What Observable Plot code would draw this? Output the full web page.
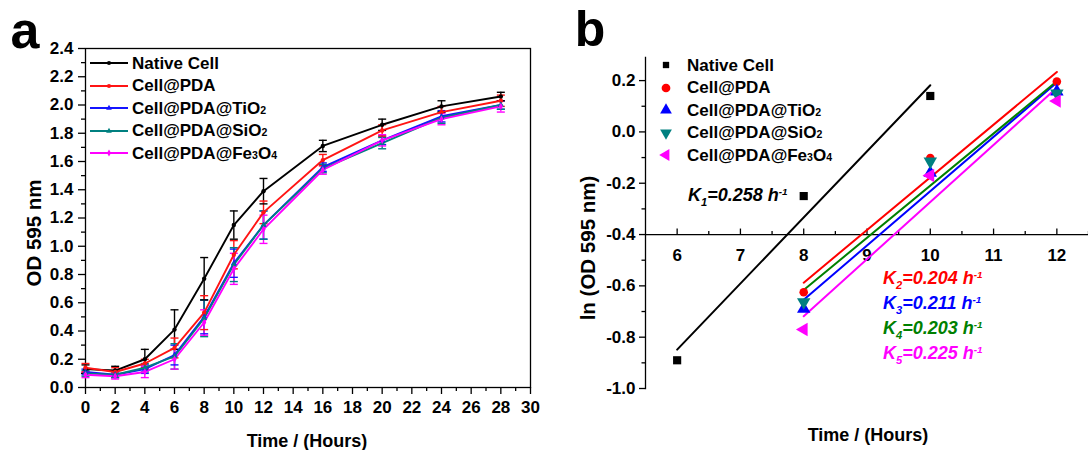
<!DOCTYPE html>
<html><head><meta charset="utf-8">
<script src="https://cdn.jsdelivr.net/npm/d3@7"></script>
<script src="https://cdn.jsdelivr.net/npm/@observablehq/plot@0.6"></script>
<style>
body{margin:0;background:#fff;}
#root{position:relative;width:1088px;height:450px;overflow:hidden;font-family:"Liberation Sans",Arial,sans-serif;font-weight:bold;color:#000;}
.abs{position:absolute;white-space:nowrap;line-height:1;}
.sm{font-size:0.62em;}
.row{display:flex;align-items:center;height:22.5px;font-size:17px;}
.k{font-style:italic;font-size:18px;}
.k sub{font-size:0.62em;vertical-align:-0.45em;}
.k sup{font-size:0.55em;vertical-align:0.55em;}
</style></head><body><div id="root"></div>
<script>
// ---------- data: panel a (growth curves) ----------
const times = [0, 2, 4, 6, 8, 10, 12, 16, 20, 24, 28];
const seriesNames = ["Native Cell", "Cell@PDA", "Cell@PDA@TiO2", "Cell@PDA@SiO2", "Cell@PDA@Fe3O4"];
const seriesHtml = ["Native Cell", "Cell@PDA", "Cell@PDA@TiO<span class='sm'>2</span>", "Cell@PDA@SiO<span class='sm'>2</span>", "Cell@PDA@Fe<span class='sm'>3</span>O<span class='sm'>4</span>"];
const lineColors = ["#000000", "#ff1414", "#1414ff", "#008080", "#ff00ff"];
const odNative = [0.13, 0.12, 0.20, 0.41, 0.77, 1.15, 1.39, 1.71, 1.86, 1.99, 2.06];
const errNative = [0.03, 0.03, 0.07, 0.14, 0.15, 0.10, 0.09, 0.04, 0.04, 0.04, 0.03];
const odPDA = [0.14, 0.11, 0.17, 0.28, 0.53, 0.94, 1.24, 1.61, 1.82, 1.95, 2.03];
const errPDA = [0.03, 0.03, 0.03, 0.07, 0.12, 0.10, 0.08, 0.04, 0.04, 0.04, 0.04];
const odTiO2 = [0.11, 0.09, 0.13, 0.23, 0.50, 0.88, 1.15, 1.56, 1.75, 1.92, 2.00];
const errTiO2 = [0.02, 0.02, 0.03, 0.07, 0.12, 0.10, 0.10, 0.03, 0.03, 0.04, 0.03];
const odSiO2 = [0.10, 0.09, 0.14, 0.22, 0.49, 0.87, 1.15, 1.55, 1.73, 1.91, 2.00];
const errSiO2 = [0.02, 0.02, 0.03, 0.09, 0.13, 0.12, 0.10, 0.03, 0.04, 0.04, 0.03];
const odFe3O4 = [0.09, 0.08, 0.11, 0.20, 0.46, 0.84, 1.12, 1.54, 1.75, 1.90, 1.99];
const errFe3O4 = [0.02, 0.02, 0.04, 0.07, 0.09, 0.11, 0.10, 0.03, 0.04, 0.04, 0.04];
const xTicksA = [0, 2, 4, 6, 8, 10, 12, 14, 16, 18, 20, 22, 24, 26, 28, 30];
const yTicksA = [0, 0.2, 0.4, 0.6, 0.8, 1.0, 1.2, 1.4, 1.6, 1.8, 2.0, 2.2, 2.4];

// ---------- data: panel b (ln OD, linear fits) ----------
const lnTimesNative = [6, 8, 10];
const lnTimes = [8, 10, 12];
const lnNative = [-0.89, -0.25, 0.14];
const lnPDA = [-0.625, -0.102, 0.196];
const lnTiO2 = [-0.69, -0.16, 0.157];
const lnSiO2 = [-0.663, -0.115, 0.15];
const lnFe3O4 = [-0.77, -0.17, 0.12];
const markerColors = ["#000000", "#ff0000", "#0000ff", "#008080", "#ff00ff"];
const fitColors = ["#000000", "#ff0000", "#0000ff", "#008000", "#ff00ff"];
const kValues = ["0.258", "0.204", "0.211", "0.203", "0.225"];
const kColors = ["#000000", "#ff0000", "#0000ff", "#008000", "#ff00ff"];
const xTicksB = [6, 7, 8, 9, 10, 11, 12];
const yTicksB = [-1.0, -0.8, -0.6, -0.4, -0.2, 0.0, 0.2];

// ---------- build tables ----------
const odValues = [odNative, odPDA, odTiO2, odSiO2, odFe3O4];
const odErrors = [errNative, errPDA, errTiO2, errSiO2, errFe3O4];
const growth = seriesNames.flatMap((s, i) => times.map((t, j) => ({series: s, t, v: odValues[i][j], e: odErrors[i][j]})));
const lnValues = [lnNative, lnPDA, lnTiO2, lnSiO2, lnFe3O4];
const lnTable = seriesNames.map((s, i) => (i === 0 ? lnTimesNative : lnTimes).map((t, j) => ({series: s, idx: i, t, v: lnValues[i][j]})));

const root = document.getElementById("root");
const capSym = {draw(ctx, size) { const r = Math.sqrt(size / Math.PI); ctx.moveTo(-r, 0); ctx.lineTo(r, 0); }};
const upTick = {draw(ctx, size) { const r = Math.sqrt(size / Math.PI); ctx.moveTo(0, 0); ctx.lineTo(0, -r); }};
const fmt1 = d => d.toFixed(1);
const minorA_x = d3.range(1, 30, 2);
const minorA_y = d3.range(0.1, 2.4, 0.2);
const font = {fontFamily: '"Liberation Sans", Arial, sans-serif', fontWeight: "bold", fontSize: "17px", background: "transparent", overflow: "visible", position: "absolute", top: "0px"};

// ---------- panel a ----------
const markSym = ["circle", "circle", "triangle", "triangle", "diamond"];
const plotA = Plot.plot({
  width: 545, height: 450,
  marginLeft: 85, marginRight: 15, marginTop: 48, marginBottom: 63,
  style: {...font, left: "0px"},
  x: {domain: [0, 30], label: null},
  y: {domain: [0, 2.4], label: null},
  color: {domain: seriesNames, range: lineColors},
  symbol: {domain: seriesNames, range: markSym},
  marks: [
    Plot.frame({stroke: "#000", strokeWidth: 1.3}),
    Plot.axisX({ticks: xTicksA, tickSize: 7, tickPadding: 6, tickFormat: d => String(d), label: null, strokeWidth: 1.3}),
    Plot.axisX({ticks: minorA_x, tickSize: 4, tickFormat: () => "", label: null, strokeWidth: 1.3}),
    Plot.axisY({ticks: yTicksA, tickSize: 7, tickPadding: 5, tickFormat: fmt1, label: null, strokeWidth: 1.3}),
    Plot.axisY({ticks: minorA_y, tickSize: 4, tickFormat: () => "", label: null, strokeWidth: 1.3}),
    Plot.ruleX(growth, {x: "t", y1: d => d.v - d.e, y2: d => d.v + d.e, stroke: "series", strokeWidth: 1.4}),
    Plot.dot(growth, {x: "t", y: d => d.v + d.e, symbol: capSym, r: 4, stroke: "series", fill: "none", strokeWidth: 1.4}),
    Plot.dot(growth, {x: "t", y: d => d.v - d.e, symbol: capSym, r: 4, stroke: "series", fill: "none", strokeWidth: 1.4}),
    Plot.line(growth, {x: "t", y: "v", z: "series", stroke: "series", strokeWidth: 1.9}),
    Plot.dot(growth, {x: "t", y: "v", fill: "series", symbol: "series", r: 2.2})
  ]
});
root.appendChild(plotA);

// ---------- panel b ----------
const rot = [0, 0, 0, 180, -90];
const symB = ["square", "circle", "triangle", "triangle", "triangle"];
const plotB = Plot.plot({
  width: 528, height: 450,
  marginLeft: 85, marginRight: 0, marginTop: 57, marginBottom: 62,
  style: {...font, left: "560px"},
  x: {domain: [5.5, 12.5], label: null, axis: null},
  y: {domain: [-1.0, 0.29], label: null},
  marks: [
    Plot.frame({anchor: "left", stroke: "#000", strokeWidth: 1.3}),
    Plot.ruleY([-0.4], {stroke: "#000", strokeWidth: 1.3}),
    Plot.axisY({ticks: yTicksB, tickSize: 6, tickPadding: 4, tickFormat: fmt1, label: null, strokeWidth: 1.3}),
    Plot.axisY({ticks: d3.range(-0.9, 0.29, 0.2), tickSize: 3.5, tickFormat: () => "", label: null, strokeWidth: 1.3}),
    Plot.dot(xTicksB, {x: d => d, y: () => -0.4, symbol: upTick, r: 6, stroke: "#000", fill: "none", strokeWidth: 1.3}),
    Plot.dot(d3.range(6.5, 12.6, 1), {x: d => d, y: () => -0.4, symbol: upTick, r: 3.5, stroke: "#000", fill: "none", strokeWidth: 1.3}),
    Plot.text(xTicksB, {x: d => d, y: () => -0.4, text: d => String(d), dy: 21, fill: "#000"}),
    ...lnTable.map((tbl, i) => Plot.linearRegressionY(tbl, {x: "t", y: "v", stroke: fitColors[i], strokeWidth: 2, ci: 0})),
    ...lnTable.map((tbl, i) => Plot.dot(tbl, {x: "t", y: "v", symbol: symB[i], rotate: rot[i], r: i === 0 ? 4.6 : (i === 1 ? 4.3 : 5), fill: markerColors[i], stroke: "none"}))
  ]
});
root.appendChild(plotB);

// ---------- HTML texts ----------
function put(html, x, y, css, transform) {
  const d = document.createElement("div");
  d.className = "abs";
  d.innerHTML = html;
  d.style.left = x + "px"; d.style.top = y + "px";
  d.style.transform = transform || "translate(-50%,-50%)";
  Object.assign(d.style, css || {});
  root.appendChild(d);
  return d;
}
put("a", 25, 30, {fontSize: "52px"});
put("b", 590, 29, {fontSize: "50px"});
put("Time / (Hours)", 307, 441, {fontSize: "18px"});
put("Time / (Hours)", 868, 435, {fontSize: "18px"});
put("OD 595 nm", 34, 233, {fontSize: "20.5px"}, "translate(-50%,-50%) rotate(-90deg)");
put("ln (OD 595 nm)", 588, 248, {fontSize: "20.5px"}, "translate(-50%,-50%) rotate(-90deg)");

// legend a
const legA = document.createElement("div");
legA.className = "abs"; legA.style.left = "89px"; legA.style.top = "52px";
seriesNames.forEach((s, i) => {
  const row = document.createElement("div"); row.className = "row";
  const sym = d3.symbol().type(i === 2 || i === 3 ? d3.symbolTriangle : i === 4 ? d3.symbolDiamond : d3.symbolCircle).size(14)();
  row.innerHTML = `<svg width="40" height="22" style="flex:none"><line x1="1" x2="39" y1="11" y2="11" stroke="${lineColors[i]}" stroke-width="2.2"/><path d="${sym}" transform="translate(20,11)" fill="${lineColors[i]}"/></svg><span style="margin-left:3px">${seriesHtml[i]}</span>`;
  legA.appendChild(row);
});
root.appendChild(legA);

// legend b
const legB = document.createElement("div");
legB.className = "abs"; legB.style.left = "657px"; legB.style.top = "54px";
const d3types = [d3.symbolSquare, d3.symbolCircle, d3.symbolTriangle, d3.symbolTriangle, d3.symbolTriangle];
seriesNames.forEach((s, i) => {
  const row = document.createElement("div"); row.className = "row";
  const sym = d3.symbol().type(d3types[i]).size(i === 0 ? 40 : 60)();
  row.innerHTML = `<svg width="22" height="22" style="flex:none"><path d="${sym}" transform="translate(9,11) rotate(${rot[i]})" fill="${markerColors[i]}"/></svg><span style="margin-left:8px">${seriesHtml[i]}</span>`;
  legB.appendChild(row);
});
root.appendChild(legB);

// K annotations
put(`K<sub>1</sub>=${kValues[0]} h<sup>-1</sup>`, 688, 197, {color: kColors[0]}, "translate(0,-50%)").classList.add("k");
[1, 2, 3, 4].forEach((i, j) => {
  put(`K<sub>${i + 1}</sub>=${kValues[i]} h<sup>-1</sup>`, 883, 280 + j * 25, {color: kColors[i]}, "translate(0,-50%)").classList.add("k");
});
</script></body></html>
